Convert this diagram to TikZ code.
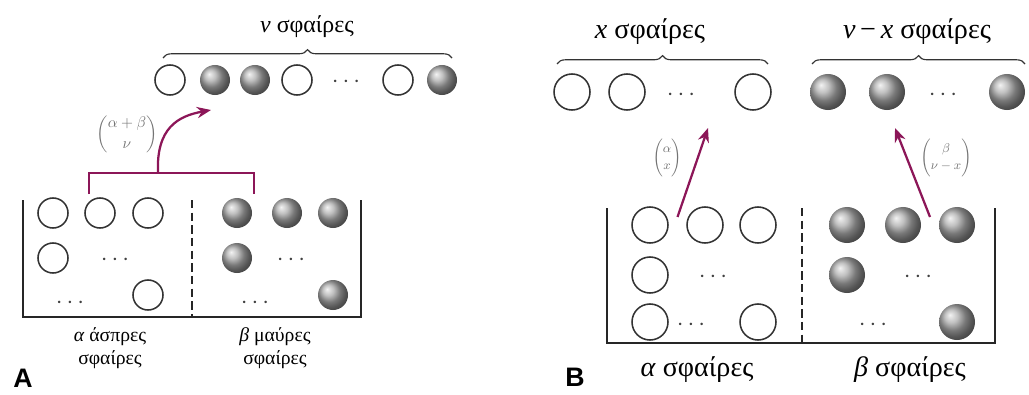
\documentclass[tikz,border=0pt]{standalone}
\usepackage{fontspec}
\usepackage{amsmath}
\setmainfont{Liberation Serif}
\setsansfont{Liberation Sans}
\usetikzlibrary{arrows.meta,decorations.pathreplacing,calc}
\definecolor{pickpurple}{RGB}{140,22,88}
\begin{document}
\begin{tikzpicture}[x=0.025cm,y=-0.025cm,
  wb/.style={circle,draw=black!80,line width=1.1pt,inner sep=0pt,minimum size=#1},
  wb/.default=0.75cm,
  bb/.style={circle,shading=ball,ball color=gray!65,inner sep=0pt,minimum size=#1},
  bb/.default=0.75cm,
  dts/.style={text=black!75,inner sep=0pt,font=\fontsize{#1}{#1}\selectfont},
  dts/.default=17,
  urn/.style={line width=1.4pt,black!85},
  split/.style={line width=1.4pt,black!85,dash pattern=on 6pt off 3pt},
  brc/.style={decorate,decoration={brace,amplitude=6pt},line width=0.8pt,black!80},
  pick/.style={pickpurple,line width=1.6pt,-{Stealth[length=10pt,width=8pt]}},
  binlab/.style={text=black!55,inner sep=0pt},
  panel/.style={font=\sffamily\bfseries\fontsize{19}{19}\selectfont,inner sep=0pt}]
\useasboundingbox (0,0) rectangle (1029,394);
% ---------- A ----------
\node[font=\fontsize{17}{20}\selectfont] (atitle) at (307,27) {\textit{ν} σφαίρες};
\draw[brc] (163,58) -- (452,58);
\foreach \x/\s [count=\i] in {170/wb,215/bb,255/bb,297/wb,398/wb,442/bb}
 \node[\s] (at\i) at (\x,80) {};
\node[dts] (atd) at (348,82) {$\cdots$};
\draw[urn] (23,200) -- (23,317) -- (361,317) -- (361,200);
\draw[split] (192,200) -- (192,317);
\foreach \x/\y [count=\i] in {53/213,100/213,148/213,53/258,148/295}
 \node[wb] (aw\i) at (\x,\y) {};
\foreach \x/\y [count=\i] in {237/213,287/213,333/213,237/258,333/295}
 \node[bb] (ab\i) at (\x,\y) {};
\foreach \x/\y [count=\i] in {117/260,72/303,293/260,257/303}
 \node[dts] (ad\i) at (\x,\y) {$\cdots$};
\node[align=center,font=\fontsize{14}{16}\selectfont] (alabw) at (110,348) {\textit{α} άσπρες\\σφαίρες};
\node[align=center,font=\fontsize{14}{16}\selectfont] (alabb) at (275,348) {\textit{β} μαύρες\\σφαίρες};
\draw[pickpurple,line width=1.6pt] (89,194) -- (89,173) -- (254,173) -- (254,194);
\coordinate (afork) at (158,173);
\coordinate (atip) at (211,110);
\draw[pick] (afork) .. controls (156,128) and (178,116) .. (atip);
\node[binlab,font=\fontsize{11}{13}\selectfont] (abin) at (127,134) {$\displaystyle\binom{\alpha+\beta}{\nu}$};
\node[panel] (pa) at (23,378) {A};
% ---------- B ----------
\node[font=\fontsize{20}{24}\selectfont] (bxtitle) at (650,32) {\textit{x} σφαίρες};
\node[font=\fontsize{20}{24}\selectfont] (bytitle) at (917,32) {\textit{ν}\,−\,\textit{x} σφαίρες};
\draw[brc] (557,64) -- (768,64);
\draw[brc] (812,64) -- (1025,64);
\foreach \x/\s [count=\i] in {572/wb,627/wb,753/wb,828/bb,887/bb,1007/bb}
 \node[\s=0.9cm] (bt\i) at (\x,92) {};
\node[dts=18] (btd1) at (683,95) {$\cdots$};
\node[dts=18] (btd2) at (945,95) {$\cdots$};
\draw[urn] (607,208) -- (607,343) -- (995,343) -- (995,208);
\draw[split] (802,208) -- (802,343);
\foreach \x/\y [count=\i] in {650/225,705/225,758/225,650/275,650/322,758/322}
 \node[wb=0.9cm] (bw\i) at (\x,\y) {};
\foreach \x/\y [count=\i] in {847/225,903/225,957/225,847/275,957/322}
 \node[bb=0.9cm] (bb\i) at (\x,\y) {};
\foreach \x/\y [count=\i] in {715/277,693/325,920/277,875/325}
 \node[dts=18] (bd\i) at (\x,\y) {$\cdots$};
\node[font=\fontsize{20}{24}\selectfont] (blabw) at (697,370) {\textit{α} σφαίρες};
\node[font=\fontsize{20}{24}\selectfont] (blabb) at (910,370) {\textit{β} σφαίρες};
\coordinate (bxtip) at (708,128);
\coordinate (bytip) at (895,128);
\draw[pick] ($(bw1)!0.5!(bw2)+(0,-8)$) -- (bxtip);
\draw[pick] ($(bb2)!0.5!(bb3)+(0,-8)$) -- (bytip);
\node[binlab,font=\fontsize{9}{11}\selectfont] (bxbin) at (667,158) {$\displaystyle\binom{\alpha}{x}$};
\node[binlab,font=\fontsize{9}{11}\selectfont] (bybin) at (946,158) {$\displaystyle\binom{\beta}{\nu-x}$};
\node[panel] (pb) at (575,377) {B};
\end{tikzpicture}
\end{document}
